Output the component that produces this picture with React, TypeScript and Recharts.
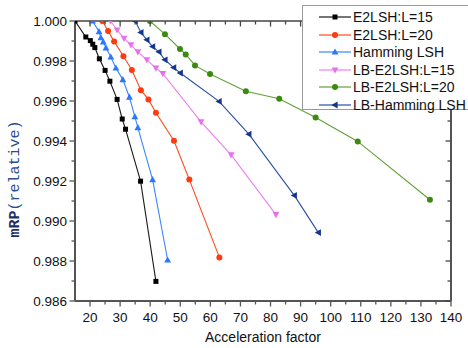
import React from 'react';
import { LineChart, Line, XAxis, YAxis, ReferenceLine } from 'recharts';

// ---------- data ----------
const e2lsh15X = [15, 18.6, 20.1, 20.9, 21.6, 23.1, 25.0, 26.6, 29.0, 30.7, 31.8, 36.8, 41.9];
const e2lsh15Y = [1.0, 0.9992, 0.99902, 0.99884, 0.99867, 0.99811, 0.99753, 0.99699, 0.99608, 0.9951, 0.99459, 0.99199, 0.98698];

const e2lsh20X = [24.1, 26.0, 28.0, 31.1, 33.9, 36.9, 39.4, 41.9, 47.9, 53.0, 63.0];
const e2lsh20Y = [1.0, 0.9995, 0.99898, 0.99824, 0.99755, 0.99654, 0.99608, 0.99541, 0.99401, 0.99207, 0.98818];

const hammingX = [20.8, 23.0, 23.6, 24.4, 25.3, 26.9, 28.6, 30.9, 33.1, 34.9, 35.9, 40.8, 45.8];
const hammingY = [1.0, 0.99947, 0.99917, 0.99896, 0.99866, 0.9982, 0.99765, 0.99707, 0.99619, 0.99522, 0.99467, 0.99207, 0.98805];

const lbE2lsh15X = [26.8, 29.0, 31.3, 33.6, 35.9, 38.9, 41.9, 44.2, 56.9, 66.9, 81.8];
const lbE2lsh15Y = [1.0, 0.99955, 0.99913, 0.99881, 0.99846, 0.99806, 0.99764, 0.99737, 0.99496, 0.99331, 0.99032];

const lbE2lsh20X = [39.9, 44.9, 49.9, 51.8, 54.9, 59.9, 71.8, 82.9, 95.0, 109.0, 133.0];
const lbE2lsh20Y = [1.0, 0.99934, 0.9986, 0.99833, 0.99778, 0.99735, 0.99649, 0.99611, 0.99518, 0.99398, 0.99106];

const lbHammingX = [35.0, 36.9, 38.9, 40.8, 42.9, 44.9, 47.8, 50.0, 62.9, 72.8, 87.9, 95.9];
const lbHammingY = [1.0, 0.99943, 0.99906, 0.99872, 0.99846, 0.99806, 0.99767, 0.9974, 0.99598, 0.99434, 0.99128, 0.98942];

const xTickValues = [20, 25, 30, 35, 40, 45, 50, 55, 60, 65, 70, 75, 80, 85, 90, 95, 100, 105, 110, 115, 120, 125, 130, 135, 140];
const yTickValues = [0.986, 0.987, 0.988, 0.989, 0.99, 0.991, 0.992, 0.993, 0.994, 0.995, 0.996, 0.997, 0.998, 0.999, 1.0];

const xTitle = 'Acceleration factor';
const yTitleA = 'mRP';
const yTitleB = '(relative)';

// ---------- layout ----------
const W = 468;
const H = 348;
const M = { top: 21, right: 17, bottom: 0, left: 0 };
const Y_AXIS_W = 75;
const X_AXIS_H = 47;
const PL = M.left + Y_AXIS_W;
const PR = W - M.right;
const PT = M.top;
const PB = H - M.bottom - X_AXIS_H;
const AXIS_COLOR = '#555';
const FONT = '"Liberation Sans", Arial, sans-serif';

type Shape = 'square' | 'circle' | 'up' | 'down' | 'left';

const toData = (xs: number[], ys: number[]) => xs.map((x, i) => ({ x, y: ys[i] }));

const series = [
  { name: 'E2LSH:L=15', data: toData(e2lsh15X, e2lsh15Y), line: '#1a1a1a', marker: '#000000', shape: 'square' as Shape },
  { name: 'E2LSH:L=20', data: toData(e2lsh20X, e2lsh20Y), line: '#ff4a1c', marker: '#ff3a10', shape: 'circle' as Shape },
  { name: 'Hamming LSH', data: toData(hammingX, hammingY), line: '#3a86ff', marker: '#2a78ff', shape: 'up' as Shape },
  { name: 'LB-E2LSH:L=15', data: toData(lbE2lsh15X, lbE2lsh15Y), line: '#ee80ee', marker: '#e870ee', shape: 'down' as Shape },
  { name: 'LB-E2LSH:L=20', data: toData(lbE2lsh20X, lbE2lsh20Y), line: '#62a03a', marker: '#3a8a10', shape: 'circle' as Shape },
  { name: 'LB-Hamming LSH', data: toData(lbHammingX, lbHammingY), line: '#2a4ea8', marker: '#15358f', shape: 'left' as Shape },
];

function Marker({ shape, cx, cy, color }: { shape: Shape; cx: number; cy: number; color: string }) {
  if (cx == null || cy == null || isNaN(cx) || isNaN(cy)) return null;
  switch (shape) {
    case 'square':
      return <rect x={cx - 2.5} y={cy - 2.5} width={5} height={5} fill={color} />;
    case 'circle':
      return <circle cx={cx} cy={cy} r={3} fill={color} />;
    case 'up':
      return <polygon points={`${cx},${cy - 3.6} ${cx + 3.4},${cy + 2.6} ${cx - 3.4},${cy + 2.6}`} fill={color} />;
    case 'down':
      return <polygon points={`${cx},${cy + 3.6} ${cx + 3.4},${cy - 2.6} ${cx - 3.4},${cy - 2.6}`} fill={color} />;
    case 'left':
      return <polygon points={`${cx - 3.6},${cy} ${cx + 2.6},${cy - 3.4} ${cx + 2.6},${cy + 3.4}`} fill={color} />;
  }
  return null;
}

const XTick = (props: any) => {
  const { x, payload } = props;
  const v = payload.value;
  const major = Math.round(v) % 10 === 0;
  const len = major ? 5.5 : 3.5;
  return (
    <g>
      <line x1={x} x2={x} y1={PB} y2={PB + len} stroke={AXIS_COLOR} strokeWidth={1.3} />
      <line x1={x} x2={x} y1={PT} y2={PT + len} stroke="#444" strokeWidth={1.3} />
      {major && (
        <text x={x} y={PB + 21} textAnchor="middle" fontSize={13.5} fontFamily={FONT} fill="#111">
          {v}
        </text>
      )}
    </g>
  );
};

const YTick = (props: any) => {
  const { y, payload } = props;
  const v = payload.value;
  const major = Math.round(v * 1000) % 2 === 0;
  const len = major ? 5.5 : 3.5;
  return (
    <g>
      <line x1={PL - len} x2={PL} y1={y} y2={y} stroke={AXIS_COLOR} strokeWidth={1.3} />
      <line x1={PR - len} x2={PR} y1={y} y2={y} stroke="#444" strokeWidth={1.3} />
      {major && (
        <text x={PL - 8} y={y + 5} textAnchor="end" fontSize={13.5} fontFamily={FONT} fill="#111">
          {v.toFixed(3)}
        </text>
      )}
    </g>
  );
};

function LegendSample({ s }: { s: (typeof series)[number] }) {
  return (
    <svg width={34} height={12} style={{ position: 'absolute', left: 15, top: -6 }}>
      <line x1={1} x2={33} y1={6} y2={6} stroke={s.line} strokeWidth={1.2} />
      <Marker shape={s.shape} cx={17} cy={6} color={s.marker} />
    </svg>
  );
}

export default function App() {
  return (
    <div style={{ position: 'absolute', left: 0, top: 0, width: W, height: H, overflow: 'hidden', background: '#fff' }}>
      <LineChart width={W} height={H} margin={M}>
        <XAxis
          type="number"
          dataKey="x"
          domain={[15, 140]}
          ticks={xTickValues}
          interval={0}
          height={X_AXIS_H}
          allowDataOverflow
          axisLine={{ stroke: AXIS_COLOR, strokeWidth: 2 }}
          tickLine={false}
          tick={<XTick />}
        />
        <YAxis
          type="number"
          dataKey="y"
          domain={[0.986, 1.0]}
          ticks={yTickValues}
          interval={0}
          width={Y_AXIS_W}
          allowDataOverflow
          axisLine={{ stroke: AXIS_COLOR, strokeWidth: 2 }}
          tickLine={false}
          tick={<YTick />}
        />
        <ReferenceLine y={1.0} stroke="#444" strokeWidth={1.5} />
        <ReferenceLine x={140} stroke="#555" strokeWidth={2} />
        {series.map((s) => (
          <Line
            key={s.name}
            data={s.data}
            dataKey="y"
            name={s.name}
            stroke={s.line}
            strokeWidth={1.1}
            isAnimationActive={false}
            dot={(p: any) => <Marker key={`${s.name}-${p.index}`} shape={s.shape} cx={p.cx} cy={p.cy} color={s.marker} />}
            activeDot={false}
          />
        ))}
      </LineChart>

      {/* axis titles */}
      <svg width={W} height={H} style={{ position: 'absolute', left: 0, top: 0, pointerEvents: 'none' }}>
        <text x={(PL + PR) / 2} y={342} textAnchor="middle" fontSize={14} fontFamily={FONT} fill="#111">
          {xTitle}
        </text>
        <text
          transform="translate(19,179) rotate(-90)"
          textAnchor="middle"
          fontSize={15}
          fontFamily='"Liberation Mono", "DejaVu Sans Mono", monospace'
        >
          <tspan fill="#1d2f66" fontWeight="bold">{yTitleA}</tspan>
          <tspan fill="#2b4d8e">{yTitleB}</tspan>
        </text>
      </svg>

      {/* legend */}
      <div
        style={{
          position: 'absolute',
          left: 302,
          top: 5,
          width: 190,
          height: 105,
          border: '1.5px solid #999',
          background: '#fff',
          boxSizing: 'border-box',
        }}
      >
        {series.map((s, i) => (
          <div key={s.name} style={{ position: 'absolute', left: 0, top: 11 + i * 17.6, height: 0 }}>
            <LegendSample s={s} />
            <span
              style={{
                position: 'absolute',
                left: 50,
                top: -9,
                fontSize: 14,
                lineHeight: '18px',
                fontFamily: FONT,
                color: '#111',
                whiteSpace: 'nowrap',
              }}
            >
              {s.name}
            </span>
          </div>
        ))}
      </div>
    </div>
  );
}
